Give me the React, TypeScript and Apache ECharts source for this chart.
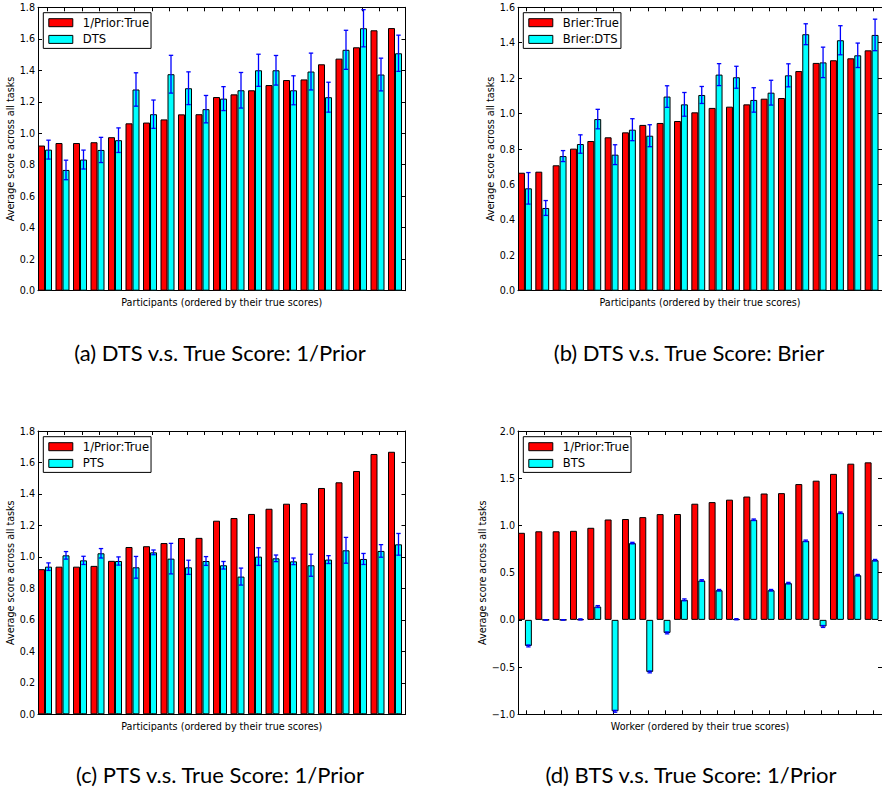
import React, { useEffect, useRef } from 'react';
import * as echarts from 'echarts';

// ---------- data ----------
const categories = ['1', '2', '3', '4', '5', '6', '7', '8', '9', '10', '11', '12', '13', '14', '15', '16', '17', '18', '19', '20', '21'];

const trueInvPrior = [0.922, 0.938, 0.938, 0.943, 0.975, 1.063, 1.068, 1.088, 1.12, 1.121, 1.23, 1.247, 1.273, 1.306, 1.338, 1.342, 1.438, 1.474, 1.546, 1.654, 1.668];

const dtsInvPrior = [0.896, 0.767, 0.833, 0.894, 0.956, 1.278, 1.121, 1.375, 1.286, 1.153, 1.22, 1.273, 1.4, 1.4, 1.273, 1.392, 1.229, 1.53, 1.667, 1.373, 1.508];
const dtsInvPriorErr = [0.06, 0.062, 0.06, 0.08, 0.078, 0.106, 0.09, 0.12, 0.104, 0.087, 0.076, 0.113, 0.102, 0.094, 0.092, 0.117, 0.095, 0.124, 0.118, 0.104, 0.115];

const trueBrier = [0.666, 0.672, 0.708, 0.802, 0.845, 0.866, 0.894, 0.936, 0.947, 0.958, 1.007, 1.032, 1.039, 1.052, 1.084, 1.088, 1.24, 1.286, 1.301, 1.312, 1.357];
const dtsBrier = [0.578, 0.467, 0.76, 0.828, 0.969, 0.768, 0.909, 0.875, 1.096, 1.052, 1.105, 1.22, 1.205, 1.077, 1.118, 1.216, 1.448, 1.289, 1.414, 1.329, 1.444];
const dtsBrierErr = [0.089, 0.042, 0.031, 0.052, 0.055, 0.056, 0.062, 0.062, 0.061, 0.067, 0.048, 0.062, 0.062, 0.069, 0.07, 0.065, 0.059, 0.086, 0.082, 0.069, 0.089];

const ptsInvPrior = [0.938, 1.01, 0.978, 1.023, 0.974, 0.934, 1.029, 0.989, 0.934, 0.974, 0.947, 0.875, 1.002, 0.991, 0.972, 0.947, 0.983, 1.042, 0.987, 1.038, 1.08];
const ptsInvPriorErr = [0.024, 0.024, 0.026, 0.03, 0.026, 0.069, 0.015, 0.097, 0.045, 0.028, 0.024, 0.054, 0.056, 0.021, 0.021, 0.07, 0.025, 0.082, 0.035, 0.04, 0.069];

const btsInvPrior = [-0.276, 0.0, 0.0, 0.005, 0.141, -0.968, 0.813, -0.551, -0.138, 0.212, 0.417, 0.314, 0.007, 1.06, 0.314, 0.389, 0.837, -0.07, 1.134, 0.473, 0.632];
const btsInvPriorErr = [0.01, 0.002, 0.002, 0.006, 0.01, 0.01, 0.008, 0.01, 0.01, 0.01, 0.008, 0.008, 0.006, 0.008, 0.008, 0.008, 0.008, 0.01, 0.008, 0.008, 0.008];

const yTicksA = { min: 0, max: 1.8, interval: 0.2 };
const yTicksB = { min: 0, max: 1.6, interval: 0.2 };
const yTicksC = { min: 0, max: 1.8, interval: 0.2 };
const yTicksD = { min: -1, max: 2, interval: 0.5 };

const captions = [
  '(a) DTS v.s. True Score: 1/Prior',
  '(b) DTS v.s. True Score: Brier',
  '(c) PTS v.s. True Score: 1/Prior',
  '(d) BTS v.s. True Score: 1/Prior',
];

// ---------- style ----------
const FONT = 'DejaVu Sans';
const RED = '#ff0000';
const CYAN = '#00ffff';
const BLUE = '#0000ff';
const Y_NAME = 'Average score across all tasks';

function fmt(v: number) {
  const s = Math.abs(v).toFixed(1);
  return v < -1e-9 ? '\u2212' + s : s;
}

type PanelDef = {
  grid: { left: number; top: number; width: number; height: number };
  ticks: { min: number; max: number; interval: number };
  xName: string;
  yNameGap: number;
  redName: string;
  cyanName: string;
  red: number[];
  cyan: number[];
  err: number[];
  legendPos: { left: number; top: number };
  caption: string;
  capX: number;
  capY: number;
};

const panels: PanelDef[] = [
  {
    grid: { left: 38, top: 7.3, width: 367.5, height: 283.4 },
    ticks: yTicksA,
    xName: 'Participants (ordered by their true scores)',
    yNameGap: 21.5,
    redName: '1/Prior:True',
    cyanName: 'DTS',
    red: trueInvPrior,
    cyan: dtsInvPrior,
    err: dtsInvPriorErr,
    legendPos: { left: 43.3, top: 12.7 },
    caption: captions[0],
    capX: 220,
    capY: 352,
  },
  {
    grid: { left: 518, top: 7.3, width: 367.5, height: 283.4 },
    ticks: yTicksB,
    xName: 'Participants (ordered by their true scores)',
    yNameGap: 21.5,
    redName: 'Brier:True',
    cyanName: 'Brier:DTS',
    red: trueBrier,
    cyan: dtsBrier,
    err: dtsBrierErr,
    legendPos: { left: 523.3, top: 12.7 },
    caption: captions[1],
    capX: 689,
    capY: 352,
  },
  {
    grid: { left: 38, top: 431, width: 367.5, height: 283.3 },
    ticks: yTicksC,
    xName: 'Participants (ordered by their true scores)',
    yNameGap: 21.5,
    redName: '1/Prior:True',
    cyanName: 'PTS',
    red: trueInvPrior,
    cyan: ptsInvPrior,
    err: ptsInvPriorErr,
    legendPos: { left: 43.3, top: 436.7 },
    caption: captions[2],
    capX: 220,
    capY: 774,
  },
  {
    grid: { left: 518, top: 431, width: 367.5, height: 283.3 },
    ticks: yTicksD,
    xName: 'Worker (ordered by their true scores)',
    yNameGap: 30,
    redName: '1/Prior:True',
    cyanName: 'BTS',
    red: trueInvPrior,
    cyan: btsInvPrior,
    err: btsInvPriorErr,
    legendPos: { left: 523.3, top: 436.7 },
    caption: captions[3],
    capX: 691,
    capY: 774,
  },
];

function buildOption() {
  const grid: any[] = [];
  const xAxis: any[] = [];
  const yAxis: any[] = [];
  const series: any[] = [];
  const legend: any[] = [];
  const graphic: any[] = [];

  panels.forEach((p, k) => {
    grid.push({ ...p.grid, containLabel: false });
    const axisLine = { show: true, onZero: false, lineStyle: { color: '#000', width: 1 } };
    const tick = { show: true, inside: true, length: 4, lineStyle: { color: '#000', width: 1 } };
    const nameTextStyle = { fontFamily: FONT, fontSize: 9.6, color: '#000' };

    xAxis.push({
      gridIndex: k,
      type: 'category',
      data: categories,
      position: 'bottom',
      boundaryGap: true,
      axisLine,
      axisTick: { ...tick, alignWithLabel: true, interval: 0 },
      axisLabel: { show: false },
      splitLine: { show: false },
      name: p.xName,
      nameLocation: 'middle',
      nameGap: 7,
      nameTextStyle,
    });
    xAxis.push({
      gridIndex: k,
      type: 'category',
      data: categories,
      position: 'top',
      boundaryGap: true,
      axisLine,
      axisTick: { ...tick, alignWithLabel: true, interval: 0 },
      axisLabel: { show: false },
      splitLine: { show: false },
    });
    yAxis.push({
      gridIndex: k,
      type: 'value',
      position: 'left',
      min: p.ticks.min,
      max: p.ticks.max,
      interval: p.ticks.interval,
      axisLine,
      axisTick: tick,
      axisLabel: { formatter: fmt, margin: 3, fontFamily: FONT, fontSize: 9.6, color: '#000' },
      splitLine: { show: false },
      name: Y_NAME,
      nameLocation: 'middle',
      nameGap: p.yNameGap,
      nameTextStyle,
    });
    yAxis.push({
      gridIndex: k,
      type: 'value',
      position: 'right',
      min: p.ticks.min,
      max: p.ticks.max,
      interval: p.ticks.interval,
      axisLine,
      axisTick: tick,
      axisLabel: { show: false },
      splitLine: { show: false },
    });

    const xi = 2 * k;
    const yi = 2 * k;
    series.push({
      type: 'bar',
      name: p.redName,
      xAxisIndex: xi,
      yAxisIndex: yi,
      data: p.red,
      barWidth: '40%',
      barGap: '0%',
      itemStyle: { color: RED, borderColor: '#000', borderWidth: 1 },
      silent: true,
    });
    series.push({
      type: 'bar',
      name: p.cyanName,
      xAxisIndex: xi,
      yAxisIndex: yi,
      data: p.cyan,
      barWidth: '40%',
      barGap: '0%',
      itemStyle: { color: CYAN, borderColor: '#000', borderWidth: 1 },
      silent: true,
    });
    // empty slot so each group starts at the left edge of its band
    series.push({
      type: 'bar',
      name: '__gap' + k,
      xAxisIndex: xi,
      yAxisIndex: yi,
      data: p.red.map(() => '-'),
      barWidth: '20%',
      barGap: '0%',
      itemStyle: { opacity: 0 },
      silent: true,
    });
    series.push({
      type: 'custom',
      name: '__err' + k,
      xAxisIndex: xi,
      yAxisIndex: yi,
      data: p.cyan.map((v, i) => [i, v, p.err[i]]),
      encode: { x: 0, y: 1 },
      z: 5,
      silent: true,
      renderItem: (params: any, api: any) => {
        const i = api.value(0);
        const v = api.value(1);
        const e = api.value(2);
        const c = api.coord([i, v]);
        const band = api.size([1, 0])[0];
        const x = c[0] + 0.1 * band;
        const yT = api.coord([i, v + e])[1];
        const yB = api.coord([i, v - e])[1];
        const cap = 2.2;
        const style = { stroke: BLUE, lineWidth: 1.3 };
        return {
          type: 'group',
          children: [
            { type: 'line', shape: { x1: x, y1: yT, x2: x, y2: yB }, style },
            { type: 'line', shape: { x1: x - cap, y1: yT, x2: x + cap, y2: yT }, style },
            { type: 'line', shape: { x1: x - cap, y1: yB, x2: x + cap, y2: yB }, style },
          ],
        };
      },
    });

    legend.push({
      left: p.legendPos.left,
      top: p.legendPos.top,
      orient: 'vertical',
      selectedMode: false,
      data: [
        { name: p.redName, icon: 'rect', itemStyle: { color: RED, borderColor: '#000', borderWidth: 1 } },
        { name: p.cyanName, icon: 'rect', itemStyle: { color: CYAN, borderColor: '#000', borderWidth: 1 } },
      ],
      itemWidth: 24,
      itemHeight: 8,
      itemGap: 4.7,
      borderColor: '#000',
      borderWidth: 1,
      backgroundColor: '#fff',
      padding: [4, 2, 3, 5],
      textStyle: { fontFamily: FONT, fontSize: 11.6, color: '#000', lineHeight: 12, padding: [0, 0, 0, 5] },
    });

    graphic.push({
      type: 'text',
      x: p.capX,
      y: p.capY,
      style: {
        text: p.caption,
        fontFamily: 'Lato',
        fontSize: 22,
        fill: '#000',
        align: 'center',
        verticalAlign: 'middle',
        textAlign: 'center',
        textVerticalAlign: 'middle',
      },
    });
  });

  return {
    animation: false,
    backgroundColor: '#fff',
    grid,
    xAxis,
    yAxis,
    series,
    legend,
    graphic,
  };
}

export default function App() {
  const ref = useRef<HTMLDivElement>(null);
  useEffect(() => {
    if (!ref.current) return;
    const chart = echarts.init(ref.current, undefined, { renderer: 'svg' });
    chart.setOption(buildOption() as any);
    return () => chart.dispose();
  }, []);
  return (
    <div
      ref={ref}
      style={{ position: 'fixed', left: 0, top: 0, width: 882, height: 788, background: '#fff' }}
    />
  );
}
